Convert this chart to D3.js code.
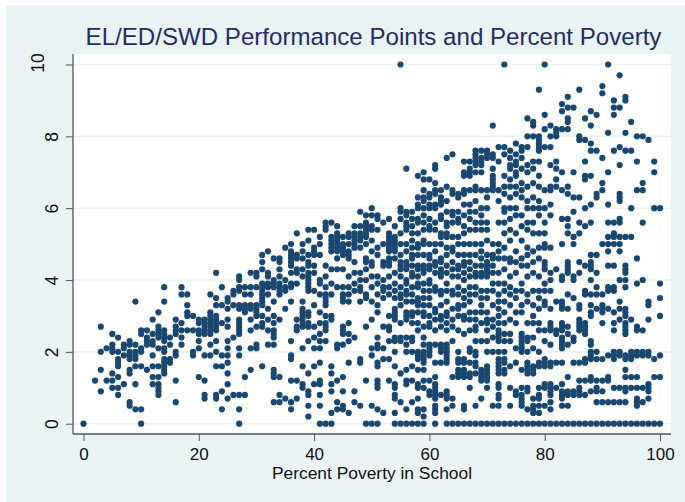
<!DOCTYPE html>
<html><head><meta charset="utf-8">
<script src="https://cdnjs.cloudflare.com/ajax/libs/d3/7.8.5/d3.min.js"></script>
<style>
html,body{margin:0;padding:0;background:#fff}
svg{display:block}
text{font-family:"Liberation Sans",Arial,sans-serif}
</style></head><body><div id="chart"></div>
<script>
const chartTitle = "EL/ED/SWD Performance Points and Percent Poverty";
const xAxisLabel = "Percent Poverty in School";
const xTicks = [0,20,40,60,80,100];
const yTicks = [0,2,4,6,8,10];
// Performance points (in tenths) read for each whole percent of poverty.
const povertyPercent = [0,2,3,4,5,6,7,8,9,10,11,12,13,14,15,16,17,18,19,20,21,22,23,24,25,26,27,28,29,30,31,32,33,34,35,36,37,38,39,40,41,42,43,44,45,46,47,48,49,50,51,52,53,54,55,56,57,58,59,60,61,62,63,64,65,66,67,68,69,70,71,72,73,74,75,76,77,78,79,80,81,82,83,84,85,86,87,88,89,90,91,92,93,94,95,96,97,98,99,100];
const performanceTenths = [
[0],[12],[27,20,15,9],[21,12],[25,22,21,20,14,12,10],[24,20,18,17,16,13,10,8],[22,21,19,11],[23,22,20,19,18,15,14,6,5],[34,22,20,19,18,16,11,4],
[26,25,21,20,16,4,0],[26,24,23,22,15],[29,25,23,22,19,16,13,11],[31,27,26,25,24,21,16,13,11,10,9,8],[38,34,26,25,24,23,21,20,18,17,16,15,14],[24,22,18,17],[29,27,26,25,20,19,12,6],[38,36,28,26,24,22],[36,33,31,30,26],[30,26,20,19],
[29,28,26,25,23,21,13],[29,28,27,26,25,19,12,8,7],[36,31,30,29,28,27,26,25,22,19],[42,35,33,30,29,28,27,26,23,20,16,8,7],[38,33,28,19,16,9,4],[35,34,32,29,27,23,21,19,17,14,11,7],[37,36,33,24,8],[41,40,38,37,33,32,29,28,27,26,25,21,19,8,4,0],[38,36,33,32,31,13,8],[42,38,36,33,32,29,26,21,15],
[42,41,38,33,32,31,30,27,22,21],[47,45,43,39,38,37,36,35,34,33,30,28,27,16],[48,42,41,39,38,36,32,29,26,22],[46,40,39,38,34,30,28,26,25,24,22,15,14,13,6],[46,45,43,41,39,38,37,36,29,13,8,6],[49,40,38,37,32,7],[50,48,47,46,45,44,42,39,38,34,23,19,18,12,6,4],[53,47,46,43,42,39,29,27,26,12,7],[50,48,46,43,41,34,32,31,30,29,28,27,21,16,11,10],[54,51,47,45,44,42,41,40,39,38,37,31,30,28,27,23,14,9,8,5,2],
[54,49,48,47,44,42,37,33,27,24,21,16,11],[52,50,47,40,39,36,31,28,25,23,21,17,12,11,8,5,0],[56,55,54,44,41,38,36,35,34,33,30,28,27,26,23,0],[56,52,51,50,49,48,43,39,36,30,29,16,14,11,9,3,0],[55,53,52,51,50,49,48,46,43,38,22,21,12,6,4],[52,50,49,48,47,43,38,36,35,34,27,26,25,22,13,9,5,4],[53,52,50,48,47,46,41,38,36,34,28,25,23,17,3],[55,53,52,51,50,49,45,42,39,37,24,9,6],[59,55,53,52,51,49,42,40,38,37,34,18,17,5],[58,56,55,54,53,52,50,46,45,43,40,36,35,27,12,0],
[60,58,55,54,51,48,45,44,41,38,34,29,21,19,5,0],[58,57,54,49,47,41,39,36,33,31,24,22,21,17,16,12,11,10,4,0],[56,50,45,44,40,38,37,35,27,21,18,3],[57,53,52,51,50,49,48,46,45,44,41,38,36,30,27,26,23,18,12],[55,52,51,50,49,48,46,42,39,37,35,32,31,30,29,24,23,20,16,11,10,8,7,3,0],[100,60,59,57,53,50,47,45,44,43,41,38,36,35,33,28,24,23,14,6,0],[71,59,58,56,55,54,50,48,45,44,43,40,39,37,36,34,31,30,29,24,22,20,15,12,11,4,0],[59,57,55,53,51,49,47,46,44,42,41,38,36,34,31,30,28,24,23,20,16,12,6,0],[69,63,61,60,57,56,53,50,49,47,44,43,41,39,38,35,34,33,31,28,26,20,19,18,15,11,10,7,4,3,0],[70,68,65,63,62,60,58,56,54,51,50,47,44,43,42,39,37,35,33,31,30,27,24,22,20,19,18,17,15,12,10,4,2,0],
[68,64,63,61,60,57,55,54,50,47,46,44,43,40,39,37,35,33,30,28,27,22,21,20,19,12,9,8],[72,71,67,65,64,61,60,56,54,50,48,45,44,42,38,37,32,31,29,26,22,17,13,11,10,9,8,7,5,4,3,0],[65,63,62,61,58,57,53,52,50,46,45,43,42,41,37,36,33,30,29,27,22,21,20,17,8],[74,66,62,59,56,55,53,52,49,47,44,42,39,37,34,31,30,28,26,22,21,20,19,18,17,9,8,7,4,0],[75,65,64,59,58,56,52,49,48,45,43,41,37,36,32,29,27,23,13,7,5,0],[64,63,59,57,56,52,50,47,44,43,41,38,36,33,32,30,26,20,18,17,15,14,13,0],[73,70,69,65,64,61,58,55,53,50,47,45,44,42,40,37,35,33,30,29,25,18,17,15,14,13,5,4,0],[73,71,70,69,65,61,59,57,54,50,47,45,43,41,38,36,34,31,29,26,21,20,17,14,13,10,0],[76,75,74,73,72,70,66,65,62,59,56,54,50,47,44,42,41,38,36,31,29,27,26,23,20,19,17,16,14,5,0],[76,74,73,72,70,65,60,58,56,54,50,48,46,44,42,41,37,35,33,31,28,23,15,14,13,12,7,0],
[76,75,74,65,63,60,56,54,51,47,45,44,43,42,41,37,35,31,29,28,26,23,20,16,15,14,13,12,10,0],[83,75,74,71,69,68,67,66,65,50,47,46,44,42,39,37,33,29,27,24,20,5,0],[77,73,65,62,56,50,48,46,42,39,36,34,32,30,28,26,25,24,23,20,18,17,16,15,14,11,10,8,7,5,0],[100,77,75,69,66,64,60,59,56,53,49,46,43,39,37,34,31,28,25,23,20,18,17,15,14,0],[76,74,72,71,68,66,63,60,57,54,51,46,45,41,38,36,33,29,25,23,16,10,5,0],[78,75,73,72,70,69,66,64,60,58,53,48,45,42,37,35,31,28,21,17,9,8,0],[77,76,74,71,67,65,63,58,55,51,46,44,39,37,33,31,25,24,23,22,21,20,15,10,8,7,6,5,0],[85,80,77,72,70,66,62,60,56,54,49,47,44,41,36,34,28,24,23,20,17,16,15,14,10,9,4,0],[84,83,80,73,71,67,63,60,56,53,48,45,42,37,33,30,28,24,21,16,15,14,7,5,4,3,0],[93,80,79,78,77,76,73,69,66,62,60,58,53,49,46,41,37,35,32,28,26,20,17,16,10,8,7,5,3,0],
[100,86,82,77,65,60,56,53,50,49,45,44,43,39,37,34,33,26,23,18,17,16,11,10,5,0],[83,80,77,72,66,65,61,58,49,42,40,37,32,28,27,26,22,17,16,11,10,9,8,6,4,0],[82,81,80,73,71,68,66,43,34,26,25,17,10,0],[89,87,82,70,65,57,50,41,40,34,33,32,28,27,26,24,23,22,21,17,11,9,8,7,5,0],[91,88,85,84,82,66,64,57,55,53,45,44,43,42,36,32,27,25,22,13,9,8,5,0],[88,70,63,59,52,50,41,40,35,24,23,17,9,8,0],[93,80,79,63,56,53,45,42,33,32,29,28,27,26,17,12,10,9,8,0],[85,79,73,69,68,60,55,44,37,36,28,27,26,25,18,17,12,8,0],[87,83,78,76,69,61,56,47,45,44,43,40,36,33,31,30,23,22,20,19,18,13,12,9,0],[86,76,64,63,47,42,38,36,32,20,18,12,10,9,6,0],[94,92,74,67,65,50,36,33,32,31,28,18,12,9,6,0],[100,81,70,61,56,52,50,48,44,38,37,32,19,13,12,6,0],[90,88,86,76,56,53,52,50,44,38,37,31,28,26,20,19,18,10,6,0],[97,88,77,72,64,63,62,57,56,52,50,48,40,34,32,29,20,19,10,6,0],[91,90,81,76,52,44,43,42,40,38,32,31,30,28,27,26,25,19,18,15,13,10,9,6,0],[84,76,60,52,29,20,19,18,13,10,0],[80,73,65,46,39,27,26,20,19,13,10,7,6,5,0],[80,67,65,56,40,26,20,19,10,6,0],[79,34,33,29,20,19,11,10,9,7,0],[73,70,60,18,13,0],[60,39,35,30,19,13,0]
];

const W = 685, H = 502;
const x = d3.scaleLinear().domain([0,100]).range([83.5,660]);
const y = d3.scaleLinear().domain([0,10]).range([423.7,64.5]);
const plot = {l:73, r:671, t:54, b:434};
const font = '"Liberation Sans",Arial,sans-serif';

const svg = d3.select("#chart").append("svg").attr("width",W).attr("height",H);
svg.append("rect").attr("x",6).attr("y",5).attr("width",W-6).attr("height",H-5).attr("fill","#eaf2f3");
svg.append("rect").attr("x",plot.l).attr("y",plot.t).attr("width",plot.r-plot.l).attr("height",plot.b-plot.t).attr("fill","#fff");

svg.append("g").selectAll("line").data(yTicks).join("line")
  .attr("x1",plot.l).attr("x2",plot.r).attr("y1",d=>y(d)).attr("y2",d=>y(d))
  .attr("stroke","#eaf2f3").attr("stroke-width",1.6);

const points = povertyPercent.flatMap((p,i)=>performanceTenths[i].map(t=>({p,v:t/10})));
svg.append("g").selectAll("circle").data(points).join("circle")
  .attr("cx",d=>x(d.p)).attr("cy",d=>y(d.v)).attr("r",3.1).attr("fill","#1a476f");

const ax = svg.append("g").attr("transform",`translate(0,${plot.b})`)
  .call(d3.axisBottom(x).tickValues(xTicks).tickSize(7).tickPadding(6.5).tickFormat(d3.format("d")));
ax.select(".domain").attr("d",`M${plot.l},0H${plot.r}`).attr("stroke","#555").attr("stroke-width",1.3);
ax.selectAll(".tick line").attr("stroke","#555").attr("stroke-width",1);
ax.selectAll(".tick text").attr("font-size",17).attr("fill","#111").attr("font-family",font);

const ay = svg.append("g").attr("transform",`translate(${plot.l},0)`)
  .call(d3.axisLeft(y).tickValues(yTicks).tickSize(7).tickFormat(d3.format("d")));
ay.select(".domain").attr("d",`M0,${plot.t}V${plot.b}`).attr("stroke","#555").attr("stroke-width",1.3);
ay.selectAll(".tick line").attr("stroke","#555").attr("stroke-width",1);
ay.selectAll(".tick text")
  .attr("font-size",17.5).attr("fill","#111").attr("font-family",font)
  .attr("text-anchor","middle").attr("dy",null).attr("x",null)
  .attr("transform",d=>`translate(${d===10?-35:-21},${d===10?-2:0}) rotate(-90)`)
  .attr("y",6);

svg.append("text").attr("x",373.5).attr("y",45).attr("text-anchor","middle")
  .attr("font-size",24.1).attr("fill","#1e2f5f").text(chartTitle);
svg.append("text").attr("x",372).attr("y",479).attr("text-anchor","middle")
  .attr("font-size",17.4).attr("fill","#111").text(xAxisLabel);
</script></body></html>
